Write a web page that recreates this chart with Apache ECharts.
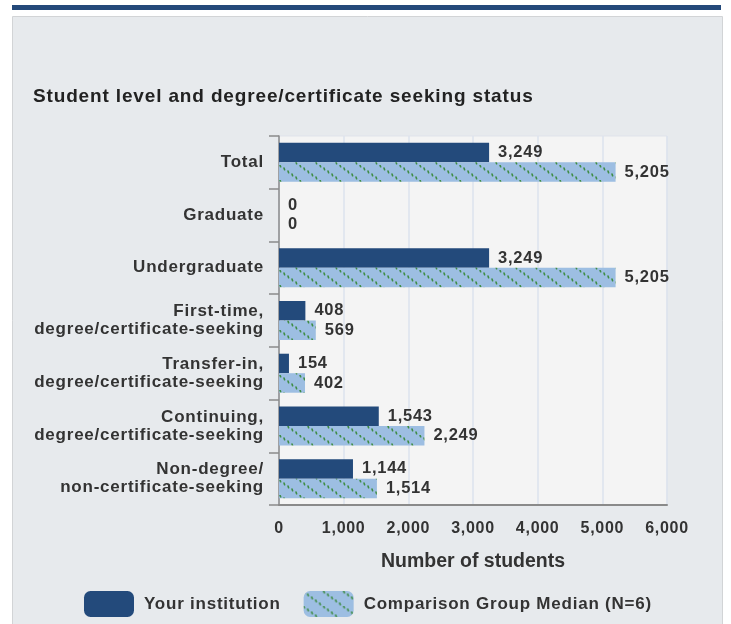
<!DOCTYPE html>
<html>
<head>
<meta charset="utf-8">
<script src="https://cdn.jsdelivr.net/npm/echarts@6/dist/echarts.min.js"></script>
<style>
  html, body { margin: 0; padding: 0; background: #ffffff; }
  #chart { width: 731px; height: 624px; }
</style>
</head>
<body>
<div id="chart"></div>
<script>
// ---- data ----
var categories = [
  'Total',
  'Graduate',
  'Undergraduate',
  'First-time,\ndegree/certificate-seeking',
  'Transfer-in,\ndegree/certificate-seeking',
  'Continuing,\ndegree/certificate-seeking',
  'Non-degree/\nnon-certificate-seeking'
];
var institutionValues = [3249, 0, 3249, 408, 154, 1543, 1144];
var medianValues = [5205, 0, 5205, 569, 402, 2249, 1514];
var seriesNames = ['Your institution', 'Comparison Group Median (N=6)'];
var xMin = 0, xMax = 6000, xInterval = 1000;
var titleText = 'Student level and degree/certificate seeking status';
var xAxisName = 'Number of students';

// ---- slight letter spacing for the bold label font (mimics the original rendering) ----
(function () {
  var proto = window.CanvasRenderingContext2D && CanvasRenderingContext2D.prototype;
  if (!proto || !('letterSpacing' in proto)) return;
  var desc = Object.getOwnPropertyDescriptor(proto, 'font');
  if (!desc || !desc.set) return;
  Object.defineProperty(proto, 'font', {
    configurable: true,
    enumerable: desc.enumerable,
    get: function () { return desc.get.call(this); },
    set: function (v) {
      desc.set.call(this, v);
      var m = /(\d+(?:\.\d+)?)px/.exec(v);
      var sp = (m && !/sans-serif/.test(v)) ? (parseFloat(m[1]) * 0.045).toFixed(2) + 'px' : '0px';
      try { this.letterSpacing = sp; } catch (e) {}
    }
  });
})();

function fmt(n) { return Number(n).toLocaleString('en-US'); }

function makePattern() {
  var c = document.createElement('canvas');
  c.width = 20; c.height = 15;
  var g = c.getContext('2d');
  g.fillStyle = '#9dbee2';
  g.fillRect(0, 0, 20, 15);
  g.strokeStyle = '#3f8d45';
  g.lineWidth = 1.6;
  g.lineCap = 'round';
  var ux = 0.8, uy = 0.6;
  for (var off = -20; off <= 20; off += 20) {
    for (var t = 0; t < 25; t += 5) {
      var x = off + t * ux, y = t * uy;
      g.beginPath();
      g.moveTo(x, y);
      g.lineTo(x + 0.6, y + 1.8);
      g.stroke();
    }
  }
  return c;
}

var FONT = '"Liberation Sans"';
var darkColor = '#234a7b';
var patternFill = { image: makePattern(), repeat: 'repeat' };

var chart = echarts.init(document.getElementById('chart'), null, { renderer: 'canvas' });

var labelStyle = {
  show: true,
  position: 'right',
  distance: 9,
  color: '#333333',
  fontFamily: FONT,
  fontWeight: 'bold',
  fontSize: 16.5,
  formatter: function (p) { return fmt(p.value); }
};

chart.setOption({
  animation: false,
  backgroundColor: '#ffffff',
  graphic: [
    { type: 'rect', z: -10, shape: { x: 12.5, y: 16.5, width: 710, height: 620 },
      style: { fill: '#e7eaed', stroke: '#d2d4d6', lineWidth: 1 } },
    { type: 'rect', z: -10, shape: { x: 12, y: 5, width: 709, height: 5 },
      style: { fill: '#24497a' } }
  ],
  title: {
    text: titleText,
    left: 33,
    top: 87,
    padding: 0,
    textStyle: { fontFamily: FONT, fontWeight: 'bold', fontSize: 19, color: '#222222' }
  },
  legend: {
    left: 84,
    top: 591,
    padding: 0,
    itemWidth: 50,
    itemHeight: 26,
    itemGap: 23,
    icon: 'roundRect',
    textStyle: { fontFamily: FONT, fontWeight: 'bold', fontSize: 17, color: '#333333', padding: [0, 0, 0, 5] },
    data: seriesNames
  },
  grid: {
    left: 279,
    right: 64,
    top: 136,
    bottom: 119,
    show: true,
    backgroundColor: '#f4f4f4',
    borderColor: '#dfe3ea',
    borderWidth: 1,
    containLabel: false
  },
  xAxis: {
    type: 'value',
    min: xMin,
    max: xMax,
    interval: xInterval,
    name: xAxisName,
    nameLocation: 'middle',
    nameGap: 47,
    nameTextStyle: { fontFamily: '"Liberation Sans", sans-serif', fontWeight: 'bold', fontSize: 19.5, color: '#333333' },
    axisLine: { show: true, lineStyle: { color: '#8a8a8a', width: 2 } },
    axisTick: { show: false },
    splitLine: { show: true, lineStyle: { color: '#dce3ee', width: 1.5 } },
    axisLabel: {
      margin: 15,
      color: '#333333',
      fontFamily: FONT,
      fontWeight: 'bold',
      fontSize: 16,
      formatter: function (v) { return fmt(v); }
    }
  },
  yAxis: {
    type: 'category',
    inverse: true,
    data: categories,
    axisLine: { show: true, lineStyle: { color: '#8a8a8a', width: 1.5 } },
    axisTick: { show: true, length: 10, lineStyle: { color: '#8a8a8a', width: 1.5 } },
    axisLabel: {
      margin: 15,
      color: '#333333',
      fontFamily: FONT,
      fontWeight: 'bold',
      fontSize: 17,
      lineHeight: 18,
      align: 'right'
    }
  },
  series: [
    {
      name: seriesNames[0],
      type: 'bar',
      data: institutionValues,
      barGap: '0%',
      barCategoryGap: '26%',
      itemStyle: { color: darkColor },
      label: labelStyle
    },
    {
      name: seriesNames[1],
      type: 'bar',
      data: medianValues,
      barGap: '0%',
      barCategoryGap: '26%',
      itemStyle: { color: patternFill },
      label: labelStyle
    }
  ]
});
</script>
</body>
</html>
